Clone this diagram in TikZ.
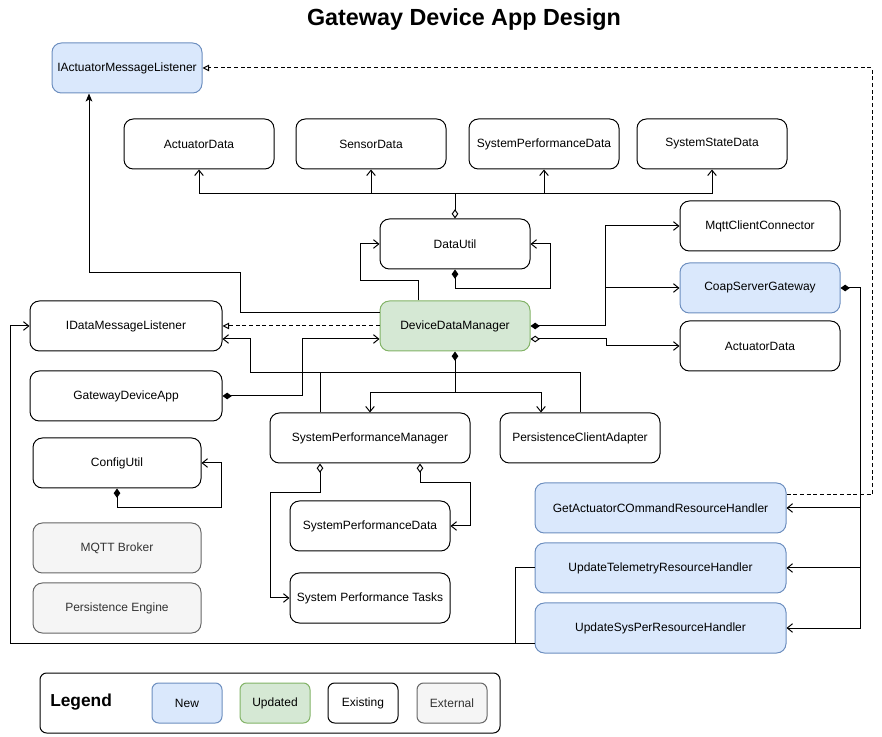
\documentclass[tikz,border=0pt]{standalone}
\usepackage{fontspec}
\setmainfont{Liberation Sans}
\usetikzlibrary{arrows.meta,calc}
\definecolor{newfill}{HTML}{DAE8FC}
\definecolor{newline}{HTML}{6C8EBF}
\definecolor{updfill}{HTML}{D5E8D4}
\definecolor{updline}{HTML}{82B366}
\definecolor{extfill}{HTML}{F5F5F5}
\definecolor{extline}{HTML}{666666}
\definecolor{exttext}{HTML}{333333}
\tikzset{
	cls/.style={draw=black, fill=white, line width=0.75pt, rounded corners=7pt, minimum width=112.5pt, minimum height=37.5pt, inner sep=2pt, font=\fontsize{9}{11}\selectfont},
	newcls/.style={cls, draw=newline, fill=newfill},
	updcls/.style={cls, draw=updline, fill=updfill},
	extcls/.style={cls, draw=extline, fill=extfill, text=exttext},
	boxw/.style={minimum width={#1*0.75pt}},
	keybox/.style={minimum width=52.5pt, minimum height=30pt, rounded corners=5pt},
	link/.style={draw=black, line width=0.75pt},
	dep/.style={link, -{Straight Barb[length=4pt,width=6.5pt]}},
	comp/.style={link, {Diamond[length=7pt,width=5pt]}-{Straight Barb[length=4pt,width=6.5pt]}},
	agg/.style={link, {Diamond[open,length=7pt,width=5pt,fill=white]}-{Straight Barb[length=4pt,width=6.5pt]}},
	aggstub/.style={link, {Diamond[open,length=7pt,width=5pt,fill=white]}-},
	real/.style={link, dashed, dash pattern=on 3pt off 2pt, -{Triangle[open,length=5pt,width=5pt,fill=white]}},
	inh/.style={link, -{Stealth[length=6pt,width=5pt,inset=1.5pt]}}
}

\begin{document}
\begin{tikzpicture}[x=0.75pt, y=-0.75pt]
				\useasboundingbox (0,0) rectangle (882,737);

				\node (title) at (464,20) {\fontsize{17.5}{21}\selectfont\bfseries Gateway Device App Design};

				\node[newcls] (iact) at (127,68) {IActuatorMessageListener};
				\node[cls] (adat1) at (199,144) {ActuatorData};
				\node[cls] (sdat) at (371,144) {SensorData};
				\node[cls] (spdat1) at (544,144) {SystemPerformanceData};
				\node[cls] (ssdat) at (712,144) {SystemStateData};
				\node[cls] (dutil) at (455,244) {DataUtil};
				\node[cls, boxw=160] (mqtt) at (760,226) {MqttClientConnector};
				\node[newcls, boxw=160] (coap) at (760,288) {CoapServerGateway};
				\node[cls, boxw=160] (adat2) at (760,346) {ActuatorData};
				\node[updcls] (ddm) at (455,326) {DeviceDataManager};
				\node[cls, boxw=192] (idml) at (126,326) {IDataMessageListener};
				\node[cls, boxw=192] (gda) at (126,396) {GatewayDeviceApp};
				\node[cls, boxw=200] (spm) at (370,438) {SystemPerformanceManager};
				\node[cls, boxw=160] (pca) at (580,438) {PersistenceClientAdapter};
				\node[cls, boxw=168] (cfg) at (117,463) {ConfigUtil};
				\node[extcls, boxw=168] (mqb) at (117,548) {MQTT Broker};
				\node[extcls, boxw=168] (pen) at (117,608) {Persistence Engine};
				\node[cls, boxw=160] (spdat2) at (370,526) {SystemPerformanceData};
				\node[cls, boxw=160] (sptask) at (370,598) {System Performance Tasks};
				\node[newcls, boxw=251] (gacrh) at (660.5,508) {GetActuatorCOmmandResourceHandler};
				\node[newcls, boxw=251] (utrh) at (660.5,568) {UpdateTelemetryResourceHandler};
				\node[newcls, boxw=251] (usprh) at (660.5,628) {UpdateSysPerResourceHandler};

				\draw[aggstub] (dutil.north) -- (455,194);
				\draw[dep] (455,194) -| (adat1.south);
				\draw[dep] (455,194) -| (sdat.south);
				\draw[dep] (455,194) -| (spdat1.south);
				\draw[dep] (455,194) -| (ssdat.south);

				\draw[dep] ($(ddm.north)+(-37,0)$) |- (360,281) |- (dutil.west);
				\draw[comp] (dutil.south) |- (550,289) |- (dutil.east);

				\draw[inh] ($(ddm.west)+(0,-13)$) -| (240,273) -| ($(iact.south)+(-38,0)$);
				\draw[real] (ddm.west) -- (idml.east);
				\draw[comp] (gda.east) -| (302,339) -- ($(ddm.west)+(0,13)$);

				\draw[dep] ($(spm.north)+(-50,0)$) |- (250,373) |- ($(idml.east)+(0,13)$);
				\draw[link] (pca.north) |- (250,373);

				\draw[comp] (ddm.south) -- (455,393) -| (spm.north);
				\draw[dep] (455,393) -| ($(pca.north)+(-39,0)$);

				\draw[comp] (ddm.east) -| (605,226) -- (mqtt.west);
				\draw[dep] (605,288) -- (coap.west);
				\draw[agg] ($(ddm.east)+(0,13)$) -| (606,346) -- (adat2.west);

				\draw[comp] (coap.east) -| (860,628) -- (usprh.east);
				\draw[dep] (860,508) -- (gacrh.east);
				\draw[dep] (860,568) -- (utrh.east);

				\draw[real] ($(gacrh.east)+(0,-13)$) -| (872,68) -- (iact.east);

				\draw[dep] (utrh.west) -| (515,643) -| (10,326) -- (idml.west);
				\draw[link] ($(usprh.west)+(0,15)$) -- (515,643);

				\draw[agg] ($(spm.south)+(-50,0)$) |- (270,493) |- (sptask.west);
				\draw[agg] ($(spm.south)+(50,0)$) |- (470,483) |- (spdat2.east);

				\draw[comp] (cfg.south) |- (221,508) |- (cfg.east);

				\node[cls, minimum width=345pt, minimum height=45pt, rounded corners=5pt] (legend) at (270,703) {};
				\node[anchor=west, inner sep=0pt] (legtxt) at (50,702) {\fontsize{13}{15}\selectfont\bfseries Legend};
				\node[newcls, keybox] (knew) at (187,703) {New};
				\node[updcls, keybox] (kupd) at (275,703) {Updated};
				\node[cls, keybox] (kexi) at (363,703) {Existing};
				\node[extcls, keybox] (kext) at (452,703) {External};

\end{tikzpicture}
\end{document}
